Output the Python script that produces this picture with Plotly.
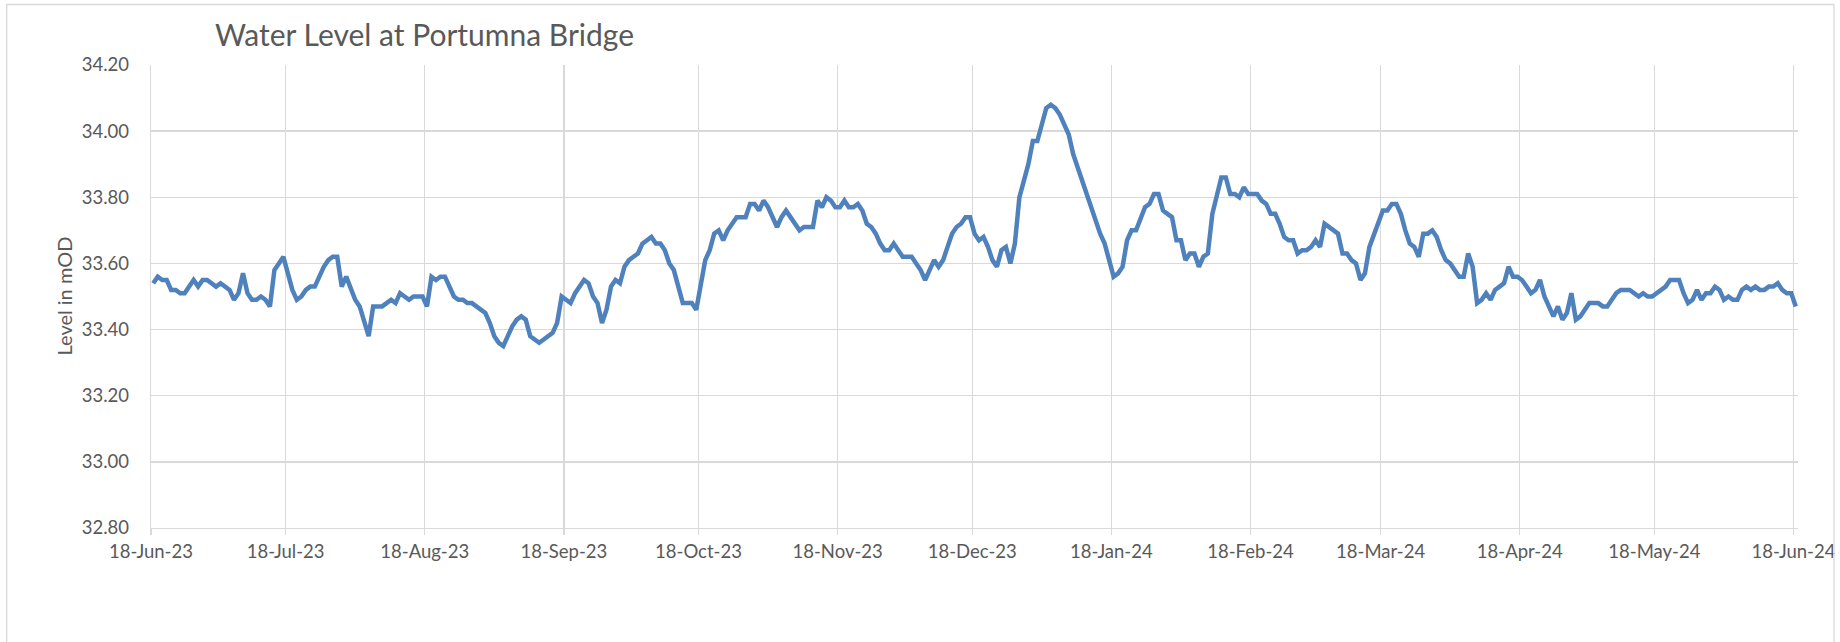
import pandas as pd
import plotly.graph_objects as go

# ---------------- data ----------------
title_text = "Water Level at Portumna Bridge"
y_title = "Level in mOD"
start_date = "2023-06-18"          # first daily reading
axis_end = "2024-06-19"            # end of the date axis
tick_start = "2023-06-18"          # ticks on the 18th of every month
y_range = [32.80, 34.20]
y_step = 0.20

# daily water level (mOD), 18-Jun-23 ... 18-Jun-24
levels = [
    33.54, 33.56, 33.55, 33.55, 33.52, 33.52, 33.51, 33.51, 33.53, 33.55,  # 0-9
    33.53, 33.55, 33.55, 33.54, 33.53, 33.54, 33.53, 33.52, 33.49, 33.51,  # 10-19
    33.57, 33.51, 33.49, 33.49, 33.50, 33.49, 33.47, 33.58, 33.60, 33.62,  # 20-29
    33.57, 33.52, 33.49, 33.50, 33.52, 33.53, 33.53, 33.56, 33.59, 33.61,  # 30-39
    33.62, 33.62, 33.53, 33.56, 33.52, 33.49, 33.47, 33.43, 33.38, 33.47,  # 40-49
    33.47, 33.47, 33.48, 33.49, 33.48, 33.51, 33.50, 33.49, 33.50, 33.50,  # 50-59
    33.50, 33.47, 33.56, 33.55, 33.56, 33.56, 33.53, 33.50, 33.49, 33.49,  # 60-69
    33.48, 33.48, 33.47, 33.46, 33.45, 33.42, 33.38, 33.36, 33.35, 33.38,  # 70-79
    33.41, 33.43, 33.44, 33.43, 33.38, 33.37, 33.36, 33.37, 33.38, 33.39,  # 80-89
    33.42, 33.50, 33.49, 33.48, 33.51, 33.53, 33.55, 33.54, 33.50, 33.48,  # 90-99
    33.42, 33.46, 33.53, 33.55, 33.54, 33.59, 33.61, 33.62, 33.63, 33.66,  # 100-109
    33.67, 33.68, 33.66, 33.66, 33.64, 33.60, 33.58, 33.53, 33.48, 33.48,  # 110-119
    33.48, 33.46, 33.53, 33.61, 33.64, 33.69, 33.70, 33.67, 33.70, 33.72,  # 120-129
    33.74, 33.74, 33.74, 33.78, 33.78, 33.76, 33.79, 33.77, 33.74, 33.71,  # 130-139
    33.74, 33.76, 33.74, 33.72, 33.70, 33.71, 33.71, 33.71, 33.79, 33.77,  # 140-149
    33.80, 33.79, 33.77, 33.77, 33.79, 33.77, 33.77, 33.78, 33.76, 33.72,  # 150-159
    33.71, 33.69, 33.66, 33.64, 33.64, 33.66, 33.64, 33.62, 33.62, 33.62,  # 160-169
    33.60, 33.58, 33.55, 33.58, 33.61, 33.59, 33.61, 33.65, 33.69, 33.71,  # 170-179
    33.72, 33.74, 33.74, 33.69, 33.67, 33.68, 33.65, 33.61, 33.59, 33.64,  # 180-189
    33.65, 33.60, 33.66, 33.80, 33.85, 33.90, 33.97, 33.97, 34.02, 34.07,  # 190-199
    34.08, 34.07, 34.05, 34.02, 33.99, 33.93, 33.89, 33.85, 33.81, 33.76,  # 200-209
    33.72, 33.69, 33.66, 33.61, 33.56, 33.57, 33.59, 33.67, 33.70, 33.70,  # 210-219
    33.74, 33.77, 33.78, 33.81, 33.81, 33.76, 33.75, 33.74, 33.67, 33.67,  # 220-229
    33.61, 33.63, 33.63, 33.59, 33.62, 33.63, 33.75, 33.81, 33.86, 33.86,  # 230-239
    33.81, 33.81, 33.80, 33.83, 33.81, 33.81, 33.81, 33.79, 33.78, 33.75,  # 240-249
    33.75, 33.72, 33.68, 33.67, 33.67, 33.63, 33.64, 33.64, 33.65, 33.67,  # 250-259
    33.65, 33.72, 33.71, 33.70, 33.69, 33.63, 33.63, 33.61, 33.60, 33.55,  # 260-269
    33.57, 33.65, 33.69, 33.73, 33.76, 33.76, 33.78, 33.78, 33.75, 33.70,  # 270-279
    33.66, 33.65, 33.62, 33.69, 33.69, 33.70, 33.68, 33.64, 33.61, 33.60,  # 280-289
    33.58, 33.56, 33.56, 33.63, 33.59, 33.48, 33.49, 33.51, 33.49, 33.52,  # 290-299
    33.53, 33.54, 33.59, 33.56, 33.56, 33.55, 33.53, 33.51, 33.52, 33.55,  # 300-309
    33.50, 33.47, 33.44, 33.47, 33.43, 33.45, 33.51, 33.43, 33.44, 33.46,  # 310-319
    33.48, 33.48, 33.48, 33.47, 33.47, 33.49, 33.51, 33.52, 33.52, 33.52,  # 320-329
    33.51, 33.50, 33.51, 33.50, 33.50, 33.51, 33.52, 33.53, 33.55, 33.55,  # 330-339
    33.55, 33.51, 33.48, 33.49, 33.52, 33.49, 33.51, 33.51, 33.53, 33.52,  # 340-349
    33.49, 33.50, 33.49, 33.49, 33.52, 33.53, 33.52, 33.53, 33.52, 33.52,  # 350-359
    33.53, 33.53, 33.54, 33.52, 33.51, 33.51, 33.47,                       # 360-366
]

# ---------------- layout geometry (pixels) ----------------
W, H = 1840, 642
ML, MR, MT, MB = 151, 42, 65, 114
PW, PH = W - ML - MR, H - MT - MB

def px_x(px):
    return (px - ML) / PW

def px_y(py):
    return (H - MB - py) / PH

FONT = "Lato, 'Open Sans', sans-serif"
TXT = "#595959"
GRID = "#D9D9D9"

dates = pd.date_range(start_date, periods=len(levels), freq="D")
# Excel date axis places each daily point in the middle of its day
x_pos = dates + pd.Timedelta(hours=12)

fig = go.Figure()
fig.add_trace(go.Scatter(
    x=x_pos, y=levels, mode="lines",
    line=dict(color="#4F81BD", width=4.5),
    hoverinfo="skip", showlegend=False,
))

fig.update_layout(
    width=W, height=H,
    margin=dict(l=ML, r=MR, t=MT, b=MB, pad=0),
    paper_bgcolor="white", plot_bgcolor="white",
    font=dict(family=FONT, color=TXT, size=18.5),
    title=dict(
        text=title_text,
        x=215 / W, xref="container", xanchor="left",
        y=1 - 35 / H, yref="container", yanchor="middle",
        font=dict(family=FONT, size=30, color=TXT),
    ),
    showlegend=False,
)

fig.update_xaxes(
    type="date",
    range=[start_date, axis_end],
    tick0=tick_start, dtick="M1",
    tickformat="%d-%b-%y",
    showgrid=True, gridcolor=GRID, gridwidth=1.3,
    showline=True, linecolor=GRID, linewidth=1.3,
    ticks="outside", ticklen=6, tickcolor=GRID, tickwidth=1.3,
    tickfont=dict(family=FONT, size=18.5, color=TXT),
    zeroline=False, automargin=False, fixedrange=True,
)

fig.update_yaxes(
    range=y_range,
    tick0=y_range[0], dtick=y_step,
    tickformat=".2f",
    showgrid=True, gridcolor=GRID, gridwidth=1.3,
    showline=True, linecolor=GRID, linewidth=1.3,
    ticks="outside", ticklen=17, tickcolor="rgba(0,0,0,0)",
    tickfont=dict(family=FONT, size=18.5, color=TXT),
    zeroline=False, automargin=False, fixedrange=True,
)

# y-axis title
fig.add_annotation(
    text=y_title, textangle=-90,
    x=px_x(63), y=0.5, xref="paper", yref="paper",
    xanchor="center", yanchor="middle", showarrow=False,
    font=dict(family=FONT, size=20, color=TXT),
)

# chart-area border (left, top, right; bottom is cut off) and right clip
fig.add_shape(type="rect", xref="paper", yref="paper",
              x0=px_x(1834.5), x1=px_x(1845), y0=px_y(700), y1=px_y(-5),
              fillcolor="white", line=dict(width=0), layer="above")
fig.add_shape(type="path", xref="paper", yref="paper",
              path=(f"M {px_x(6.7)},{px_y(660)} L {px_x(6.7)},{px_y(4.5)} "
                    f"L {px_x(1834)},{px_y(4.5)} L {px_x(1834)},{px_y(660)}"),
              line=dict(color=GRID, width=1.3), layer="above")

fig.write_html(
    "out.html",
    config={"displayModeBar": False, "staticPlot": True},
    post_script="document.body.style.margin='0';document.body.style.overflow='hidden';",
)
